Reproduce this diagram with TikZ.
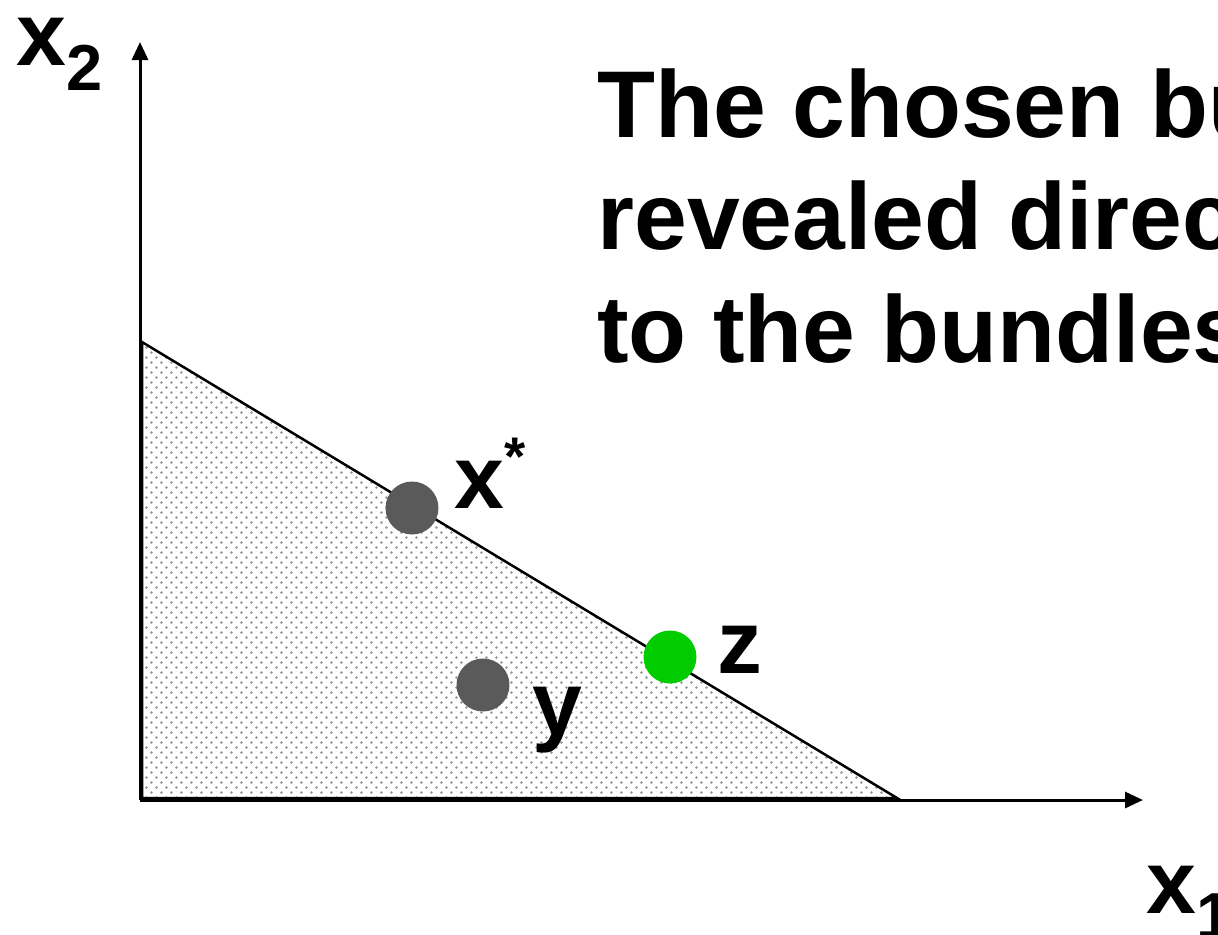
\documentclass[tikz,border=0pt]{standalone}
\usepackage{fontspec}
\setmainfont{Liberation Sans}
\usetikzlibrary{positioning,arrows.meta,patterns.meta}
\definecolor{bundlegray}{RGB}{90,90,90}
\definecolor{bundlegreen}{RGB}{0,204,0}
\newcommand{\lowidx}[1]{\raisebox{-0.5cm}{\fontsize{37}{37}\selectfont #1}}
\newcommand{\highidx}[1]{\raisebox{0.66cm}{\fontsize{31}{31}\selectfont #1}}
\tikzdeclarepattern{
    name=bundledots,
    type=uncolored,
    bottom left={(0cm,0cm)},
    top right={(0.2cm,0.2cm)},
    tile size={(0.2cm,0.2cm)},
    code={
        \fill (0.05cm,0.05cm) circle (0.03cm);
        \fill (0.15cm,0.15cm) circle (0.03cm);
    }
}
\tikzset{
    axisline/.style={draw, line width=0.06cm, -{Triangle[length=0.36cm, width=0.32cm]}},
    budgetset/.style={pattern=bundledots, pattern color=gray!80},
    budgetline/.style={draw, line width=0.05cm, line join=miter},
    bundledot/.style={circle, minimum size=1.06cm, inner sep=0pt, fill=bundlegray},
    bundlelabel/.style={font=\fontsize{51}{51}\selectfont\bfseries, inner sep=0pt, anchor=base west},
    headline/.style={font=\bfseries\fontsize{54}{64}\selectfont, inner sep=0pt, anchor=base west}
}
\begin{document}
\begin{tikzpicture}[x=0.02cm, y=-0.02cm]
    \path[use as bounding box] (0,0) rectangle (1218,934);
    \clip (0,0) rectangle (1218,934);

    \coordinate (origin) at (140,800);
    \coordinate (ytip) at (140,42);
    \coordinate (xtip) at (1143,800);
    \coordinate (budtop) at (142,342);
    \coordinate (budcorner) at (142,798);
    \coordinate (budright) at (897,798);

    % budget set
    \fill[budgetset] (budtop) -- (budcorner) -- (budright) -- cycle;
    \draw[budgetline] (budtop) -- (budcorner) -- (budright) -- cycle;

    % axes
    \draw[axisline] (origin) -- (ytip);
    \draw[axisline] (origin) -- (xtip);
    \node[bundlelabel] (xtwo) at (16,65) {x\lowidx{2}};
    \node[bundlelabel] (xone) at (1146,913) {x\lowidx{1}};

    % bundles
    \node[bundledot] (xstar) at (412,508) {};
    \node[bundledot] (ydot) at (483,685) {};
    \node[bundledot, fill=bundlegreen] (zdot) at (670,657) {};
    \node[bundlelabel, right=0.31cm of xstar.east, anchor=base west] (xstarlab) {x\highidx{*}};
    \node[bundlelabel, below right=0.98cm and 0.44cm of ydot.east, anchor=base west] (ylab) {y};
    \node[bundlelabel, below right=0.32cm and 0.4cm of zdot.east, anchor=base west] (zlab) {z};

    % heading
    \node[headline] (headA) at (597,137) {The chosen bu};
    \node[headline, below=2.26cm of headA.base west, anchor=base west] (headB) {revealed direc};
    \node[headline, below=2.26cm of headB.base west, anchor=base west] (headC) {to the bundles};
\end{tikzpicture}
\end{document}
